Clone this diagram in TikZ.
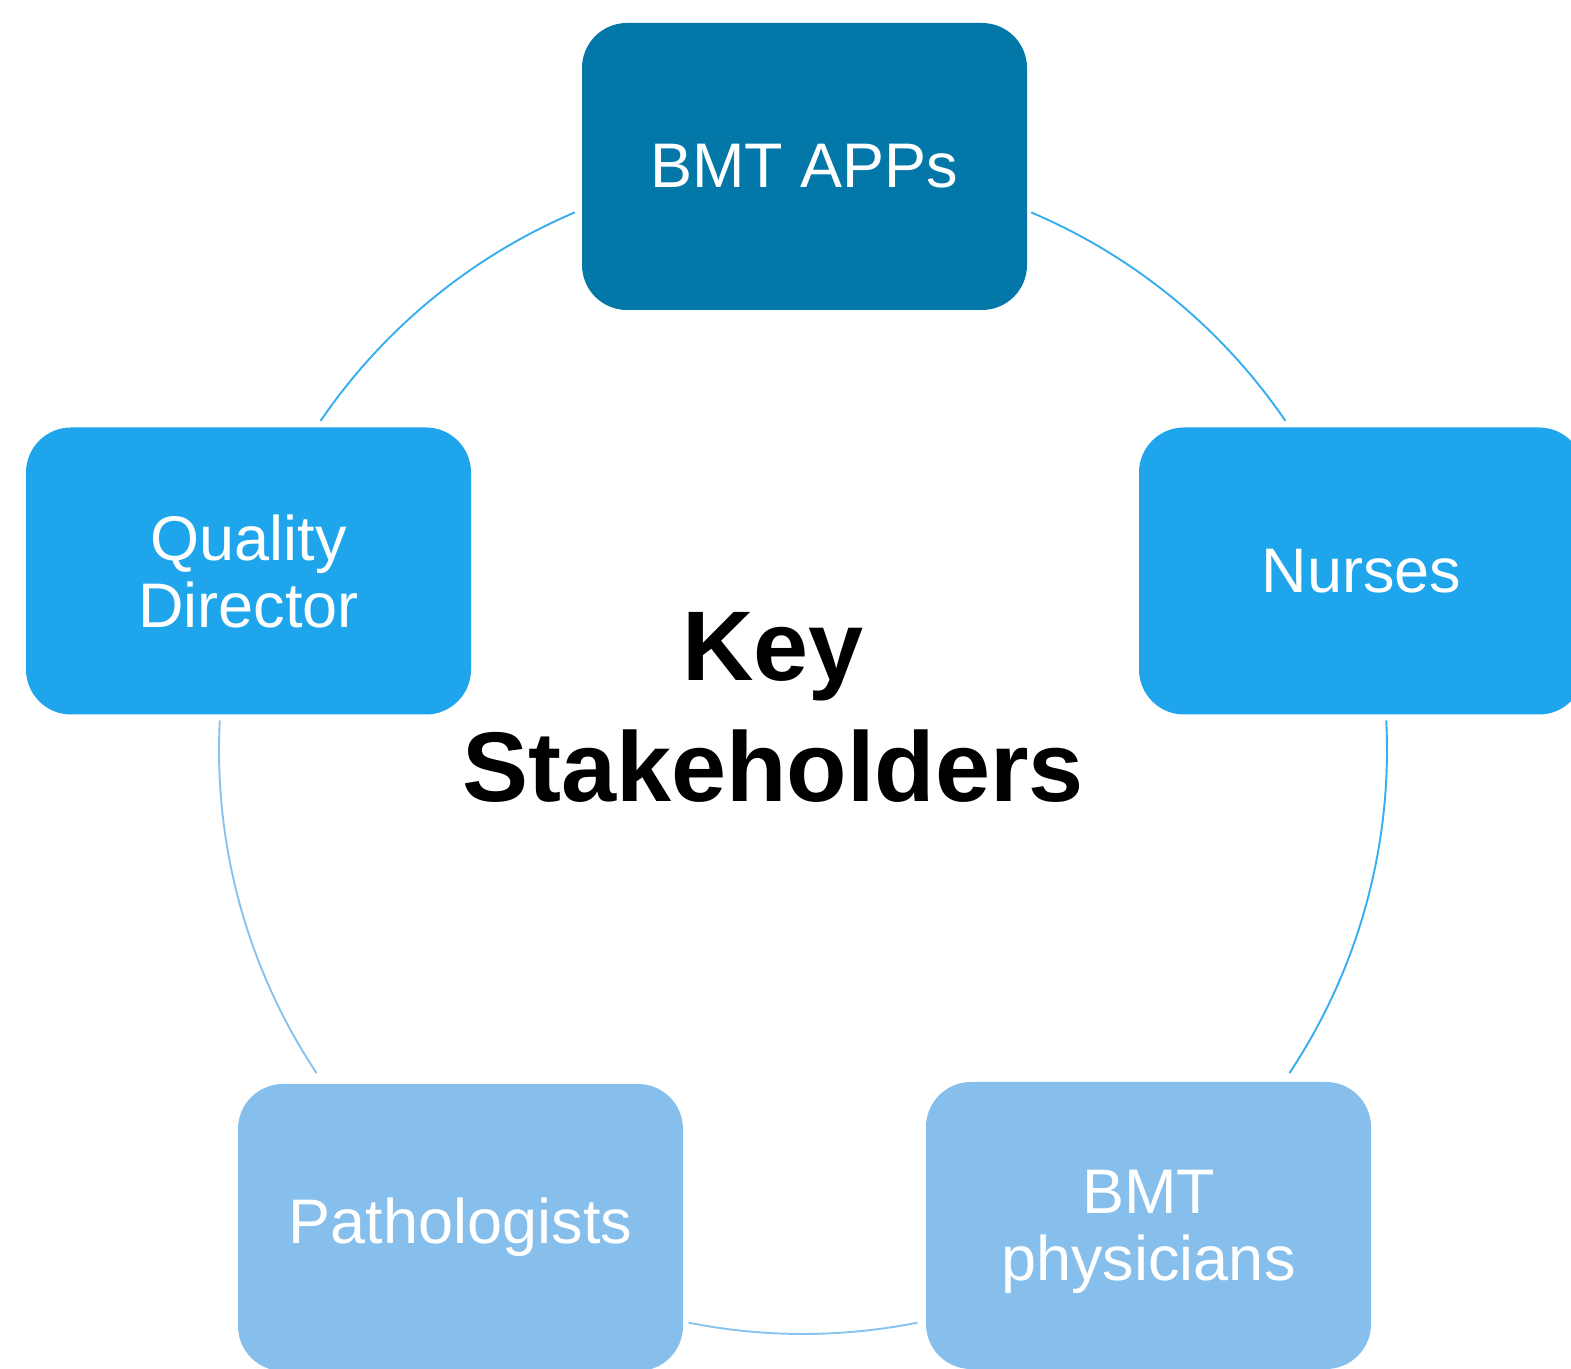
\documentclass[tikz,border=0pt]{standalone}
\usepackage{fontspec}
\setmainfont{Liberation Sans}
\usepackage{tikz}
\definecolor{appsblue}{HTML}{0277A8}
\definecolor{midblue}{HTML}{1FA5EC}
\definecolor{paleblue}{HTML}{87BFEC}
\definecolor{arcmid}{HTML}{36ADEE}
\definecolor{arcpale}{HTML}{88C2EE}
\tikzset{
  sbox/.style={rounded corners=45pt, minimum width=445pt, minimum height=287pt,
    inner sep=0pt, text=white, align=center, font=\fontsize{63}{67}\selectfont},
  ring/.style={line width=1.9pt},
  lab/.style={text=black, align=center, font=\bfseries\fontsize{99}{121}\selectfont}
}

\begin{document}
\begin{tikzpicture}[x=1pt,y=1pt]
  \useasboundingbox (0,0) rectangle (1571,1368);

  \coordinate (C) at (803,618);
  \def\rC{584}

  % pieces of the ring between the boxes
  \draw[ring, arcmid]  (C) ++(67:\rC)    arc[start angle=67,    end angle=34.3,  radius=\rC];
  \draw[ring, arcmid]  (C) ++(2.9:\rC)   arc[start angle=2.9,   end angle=-33.6, radius=\rC];
  \draw[ring, arcpale] (C) ++(-78.7:\rC) arc[start angle=-78.7, end angle=-101.3, radius=\rC];
  \draw[ring, arcpale] (C) ++(213.6:\rC) arc[start angle=213.6, end angle=177.1, radius=\rC];
  \draw[ring, arcmid]  (C) ++(145.7:\rC) arc[start angle=145.7, end angle=113,   radius=\rC];

  \node[sbox, fill=appsblue] (apps)   at (804.5,1201.5) {BMT APPs};
  \node[sbox, fill=midblue]  (nurses) at (1361.5,797)   {Nurses};
  \node[sbox, fill=paleblue, text depth=0pt] (phys) at (1148.5,142.5) {BMT\\physicians};
  \node[sbox, fill=paleblue] (path)   at (460.5,140.5)  {Pathologists};
  \node[sbox, fill=midblue]  (qual)   at (248.5,797)    {Quality\\Director};

  \node[lab] (key) at (773,661) {Key\\Stakeholders};
\end{tikzpicture}
\end{document}
